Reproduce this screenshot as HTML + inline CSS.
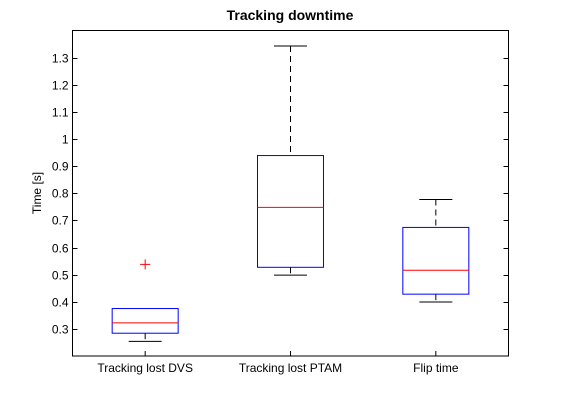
<!DOCTYPE html>
<html><head><meta charset="utf-8"><style>
body{margin:0;background:#fff;}
svg{display:block;font-family:"Liberation Sans",sans-serif;}
</style></head><body>
<svg id="c" width="561" height="420">
<rect width="561" height="420" fill="#fff"/>
<text x="290" y="20" text-anchor="middle" font-size="14" font-weight="bold">Tracking downtime</text>
<text transform="translate(41,193) rotate(-90)" text-anchor="middle" font-size="12">Time [s]</text>
<g id="ax"></g><g id="marks"></g>
<rect x="72.5" y="30.5" width="436" height="325.5" fill="none" stroke="#000"/>
</svg>
<script>
const categories=["Tracking lost DVS","Tracking lost PTAM","Flip time"];
const lowWhisker=[0.254,0.498,0.399];
const q1=[0.284,0.527,0.428];
const median=[0.322,0.748,0.516];
const q3=[0.375,0.939,0.674];
const highWhisker=[0.375,1.343,0.777];
const outliers=[[0.538],[],[]];
const yTicks=[0.3,0.4,0.5,0.6,0.7,0.8,0.9,1,1.1,1.2,1.3];
const yTickLabels=["0.3","0.4","0.5","0.6","0.7","0.8","0.9","1","1.1","1.2","1.3"];
const NS="http://www.w3.org/2000/svg";
const L=72.5,R=508.5,T=30.5,B=356;
const y=v=>B-(v-0.2)/(1.2)*(B-T);
const x=i=>L+(i+0.5)/3*(R-L);
function mk(t,a,p){const e=document.createElementNS(NS,t);for(const k in a)e.setAttribute(k,a[k]);p.appendChild(e);return e;}
const ax=document.getElementById('ax'),m=document.getElementById('marks');
yTicks.forEach((v,i)=>{const yy=Math.round(y(v))+0.5;
const t1=mk('line',{x1:L,x2:L+5,y1:yy,y2:yy,stroke:'#000'},ax);


mk('line',{x1:R-5,x2:R,y1:yy,y2:yy,stroke:'#000'},ax);
const tx=mk('text',{x:L-4,y:yy+4,'text-anchor':'end','font-size':12},ax);tx.textContent=yTickLabels[i];

});
categories.forEach((c,i)=>{const cx=x(i);const bw=66,cw=33;
mk('line',{x1:cx,x2:cx,y1:y(0.2),y2:y(0.2)-5,stroke:'#000'},ax);
const tx=mk('text',{x:cx,y:372,'text-anchor':'middle','font-size':12},ax);tx.textContent=c;


const g=mk('g',{},m);


if(highWhisker[i]>q3[i]){mk('line',{x1:cx,x2:cx,y1:y(highWhisker[i]),y2:y(q3[i]),stroke:'#000','stroke-dasharray':'6,4'},g);
mk('line',{x1:cx-cw/2,x2:cx+cw/2,y1:y(highWhisker[i]),y2:y(highWhisker[i]),stroke:'#000'},g);}
mk('line',{x1:cx,x2:cx,y1:y(q1[i]),y2:y(lowWhisker[i]),stroke:'#000','stroke-dasharray':'6,4'},g);
mk('line',{x1:cx-cw/2,x2:cx+cw/2,y1:y(lowWhisker[i]),y2:y(lowWhisker[i]),stroke:'#000'},g);
mk('rect',{x:cx-bw/2,y:y(q3[i]),width:bw,height:y(q1[i])-y(q3[i]),fill:'none',stroke:'#00f'},g);
mk('line',{x1:cx-bw/2,x2:cx+bw/2,y1:y(median[i]),y2:y(median[i]),stroke:'#f00'},g);
outliers[i].forEach(o=>{const oy=y(o);
const p=mk('path',{d:`M${cx-5} ${oy}H${cx+5}M${cx} ${oy-5}V${oy+5}`,stroke:'#f00'},g);

});});
</script>
</body></html>
